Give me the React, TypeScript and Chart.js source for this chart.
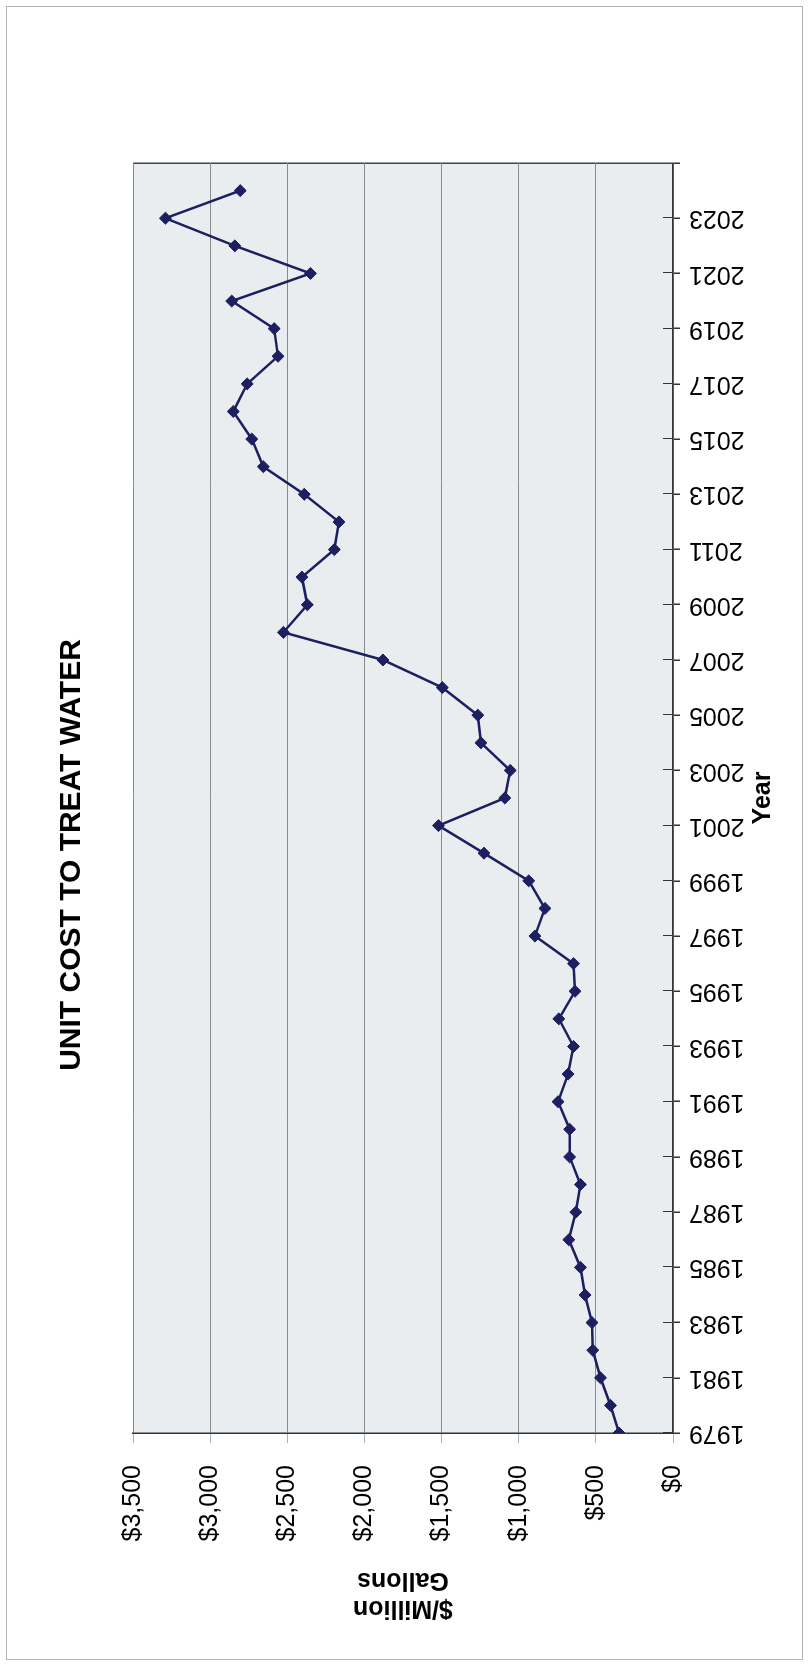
import React, { useEffect, useRef } from "react";
import { Chart, registerables } from "chart.js";

Chart.register(...registerables);

// ---- data ----
const years = [
  1979, 1980, 1981, 1982, 1983, 1984, 1985, 1986, 1987, 1988, 1989, 1990,
  1991, 1992, 1993, 1994, 1995, 1996, 1997, 1998, 1999, 2000, 2001, 2002,
  2003, 2004, 2005, 2006, 2007, 2008, 2009, 2010, 2011, 2012, 2013, 2014,
  2015, 2016, 2017, 2018, 2019, 2020, 2021, 2022, 2023, 2024,
];
const costs = [
  350, 405, 470, 520, 525, 570, 600, 675, 630, 600, 670, 670,
  745, 680, 645, 740, 635, 645, 895, 830, 935, 1225, 1520, 1090,
  1055, 1245, 1265, 1495, 1880, 2525, 2370, 2405, 2195, 2165, 2390, 2655,
  2730, 2850, 2760, 2560, 2585, 2860, 2350, 2840, 3290, 2805,
];
const yearTicks = [
  1979, 1981, 1983, 1985, 1987, 1989, 1991, 1993, 1995, 1997, 1999, 2001,
  2003, 2005, 2007, 2009, 2011, 2013, 2015, 2017, 2019, 2021, 2023, 2025,
];
const valueTicks = [0, 500, 1000, 1500, 2000, 2500, 3000, 3500];
const titleText = "UNIT COST TO TREAT WATER";
const xTitle = "Year";
const yTitle = ["$/Million", "Gallons"];

const FONT = "'Liberation Sans', Arial, Helvetica, sans-serif";
const CW = 1570; // canvas width (becomes vertical extent after rotation)
const CH = 795; // canvas height (becomes horizontal extent after rotation)

const plotBg = {
  id: "plotBg",
  beforeDraw(chart: any) {
    const { ctx, chartArea: a } = chart;
    ctx.save();
    ctx.fillStyle = "#eaedf0";
    ctx.fillRect(a.left, a.top, a.right - a.left, a.bottom - a.top);
    ctx.restore();
  },
};

const innerTicks = {
  id: "innerTicks",
  beforeDatasetsDraw(chart: any) {
    const { ctx, chartArea: a } = chart;
    const xs = chart.scales.x;
    ctx.save();
    ctx.strokeStyle = "#333";
    ctx.lineWidth = 1;
    ctx.beginPath();
    for (const t of xs.ticks) {
      if (t.value >= 2025) continue;
      const px = Math.round(xs.getPixelForValue(t.value)) + 0.5;
      ctx.moveTo(px, a.bottom);
      ctx.lineTo(px, a.bottom - 10);
    }
    ctx.stroke();
    ctx.restore();
  },
};

export default function App() {
  const ref = useRef<HTMLCanvasElement | null>(null);

  useEffect(() => {
    if (!ref.current) return;
    const chart = new Chart(ref.current, {
      type: "line",
      data: {
        datasets: [
          {
            data: years.map((y, i) => ({ x: y, y: costs[i] })),
            borderColor: "#1c1f60",
            backgroundColor: "#1c1f60",
            borderWidth: 2.5,
            pointStyle: "rectRot",
            pointRadius: 6,
            pointBorderWidth: 1,
            tension: 0,
          },
        ],
      },
      options: {
        responsive: false,
        animation: false,
        devicePixelRatio: 1,
        layout: { padding: { left: 93, right: 93, top: 0, bottom: 0 } },
        plugins: {
          legend: { display: false },
          tooltip: { enabled: false },
          title: {
            display: true,
            text: titleText,
            color: "#000",
            font: { family: FONT, size: 30, weight: "bold" },
            padding: { top: 47, bottom: 43 },
          },
        },
        scales: {
          x: {
            type: "linear",
            min: 1979,
            max: 2025,
            afterBuildTicks: (s: any) => {
              s.ticks = yearTicks.map((v) => ({ value: v }));
            },
            afterFit: (s: any) => {
              s.height = 129;
            },
            ticks: {
              autoSkip: false,
              minRotation: 90,
              maxRotation: 90,
              padding: 9,
              color: "#000",
              font: { family: FONT, size: 25 },
              callback: (v: any) => (v === 2025 ? "" : String(v)),
            },
            grid: {
              color: (c: any) =>
                c.tick && c.tick.value === 2025 ? "#444" : "rgba(0,0,0,0)",
              tickColor: "#333",
              tickLength: 7,
              lineWidth: 1.5,
            },
            border: { color: "#333", width: 1.5 },
            title: {
              display: true,
              text: xTitle,
              color: "#000",
              font: { family: FONT, size: 25, weight: "bold" },
              padding: { top: 0, bottom: 24 },
            },
          },
          y: {
            type: "linear",
            min: 0,
            max: 3500,
            afterBuildTicks: (s: any) => {
              s.ticks = valueTicks.map((v) => ({ value: v }));
            },
            afterFit: (s: any) => {
              s.width = 114;
            },
            ticks: {
              padding: 22,
              color: "#000",
              font: { family: FONT, size: 25 },
              callback: (v: any) => "$" + Number(v).toLocaleString("en-US"),
            },
            grid: {
              color: "#8a8a8a",
              tickColor: "#b0b0b0",
              tickLength: 10,
              lineWidth: 1,
            },
            border: { color: "#333", width: 1.5 },
            title: {
              display: true,
              text: yTitle,
              color: "#000",
              font: { family: FONT, size: 25, weight: "bold", lineHeight: 1.12 },
              padding: { top: -75, bottom: 0 },
            },
          },
        },
      } as any,
      plugins: [plotBg, innerTicks],
    });
    return () => chart.destroy();
  }, []);

  return (
    <div
      style={{
        position: "absolute",
        left: 0,
        top: 0,
        width: 809,
        height: 1669,
        background: "#fff",
        overflow: "hidden",
      }}
    >
      <div
        style={{
          position: "absolute",
          left: 6,
          top: 6,
          width: 797,
          height: 1654,
          boxSizing: "border-box",
          border: "1px solid #b4b4b4",
        }}
      />
      <div
        style={{
          position: "absolute",
          left: 7,
          top: 70,
          width: CW,
          height: CH,
          transformOrigin: "0 0",
          transform: `translateY(${CW}px) rotate(-90deg)`,
        }}
      >
        <canvas ref={ref} width={CW} height={CH} style={{ display: "block", width: CW, height: CH }} />
      </div>
    </div>
  );
}
